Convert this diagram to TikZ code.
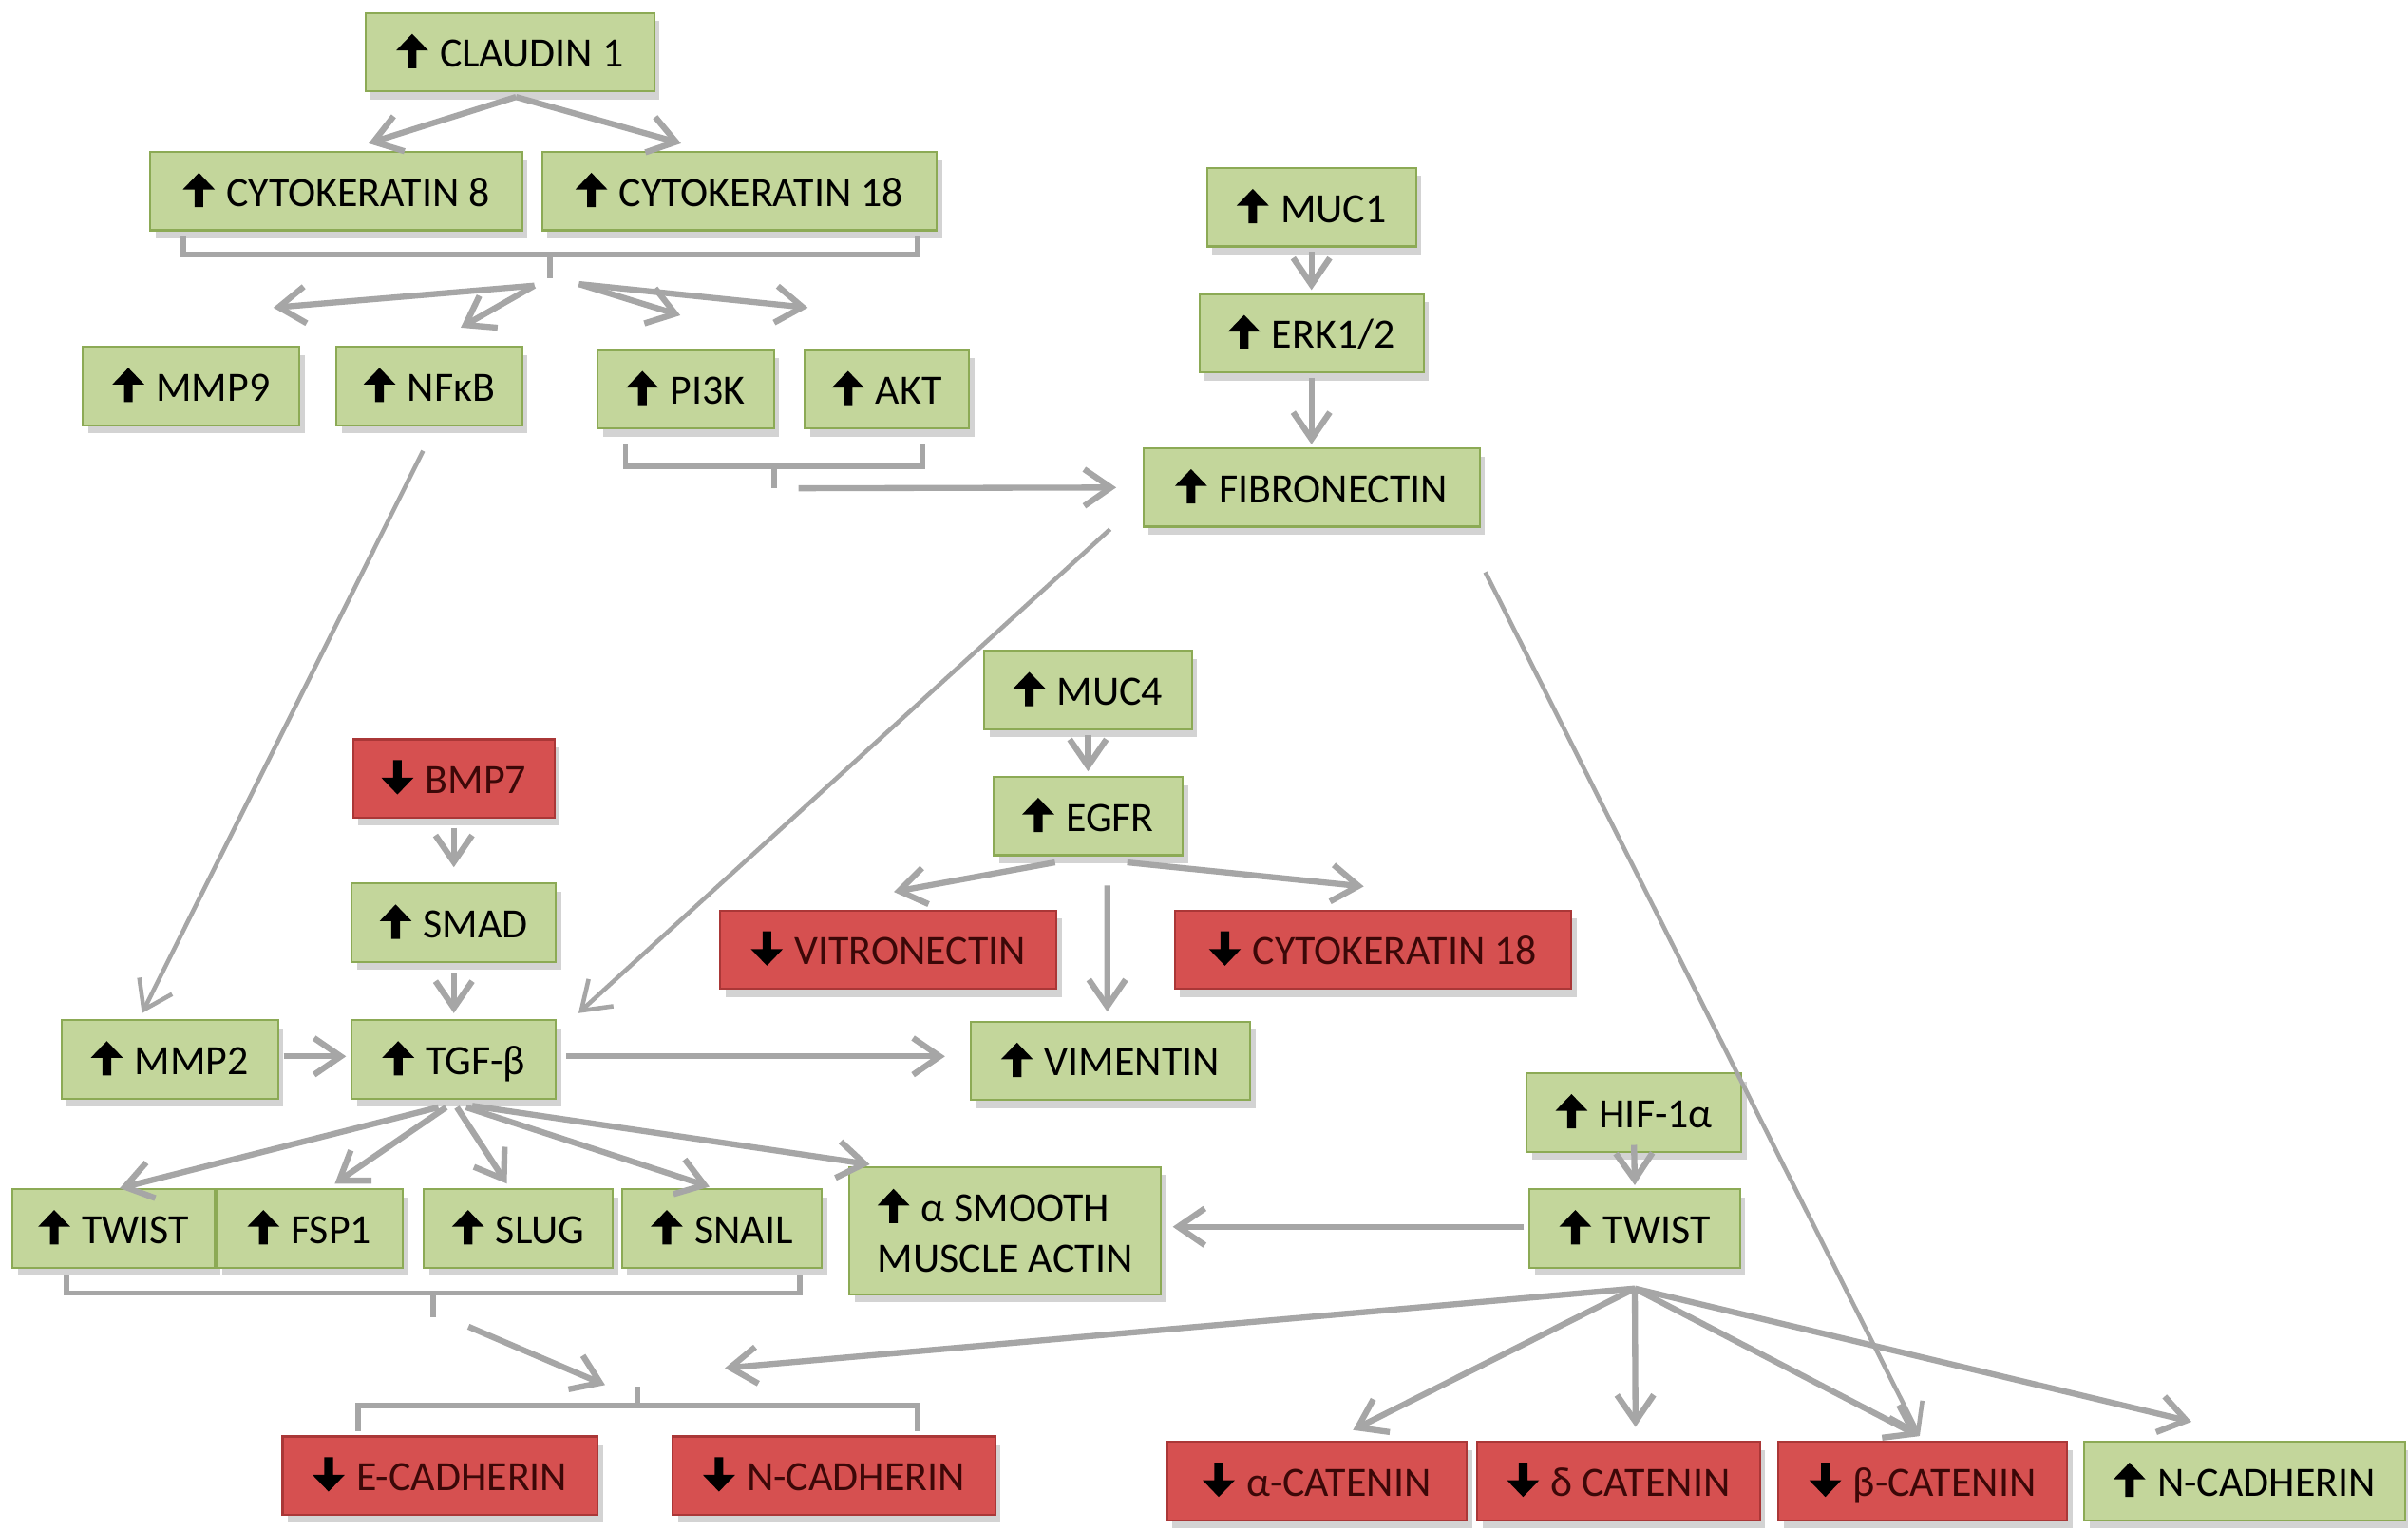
\documentclass[tikz,border=0pt]{standalone}
\usepackage{fontspec}
\setmainfont{Carlito}
\usetikzlibrary{arrows.meta,calc,shadows}

\definecolor{upfill}{RGB}{195,214,155}
\definecolor{updraw}{RGB}{140,170,85}
\definecolor{downfill}{RGB}{214,80,80}
\definecolor{downdraw}{RGB}{170,55,55}
\definecolor{downtext}{RGB}{60,8,8}
\definecolor{linkgray}{RGB}{166,166,166}

\def\pxl{0.016167cm}
\newcommand{\up}{\tikz[baseline=0pt]\fill[black] (-1.3pt,-0.3pt) -- (-1.3pt,5pt) -- (-4.8pt,5pt)
  -- (0,10pt) -- (4.8pt,5pt) -- (1.3pt,5pt) -- (1.3pt,-0.3pt) -- cycle;\hspace{3.5pt}}
\newcommand{\dn}{\tikz[baseline=0pt]\fill[black] (-1.3pt,10pt) -- (-1.3pt,4.7pt) -- (-4.8pt,4.7pt)
  -- (0,-0.3pt) -- (4.8pt,4.7pt) -- (1.3pt,4.7pt) -- (1.3pt,10pt) -- cycle;\hspace{3.5pt}}

\tikzset{
  box/.style={rectangle, line width=0.6pt, inner sep=0pt, minimum height=51*\pxl,
    font=\fontsize{12.5}{15}\selectfont,
    drop shadow={shadow xshift=1.6pt, shadow yshift=-2.4pt, opacity=0.35}},
  oneline/.style={text height=9.8pt, text depth=0.8pt},
  upbox/.style={box, draw=updraw, fill=upfill, text=black},
  downbox/.style={box, draw=downdraw, fill=downfill, text=downtext},
  link/.style={draw=linkgray, line width=1.8pt, -{Straight Barb[length=8pt,width=11pt]}},
  thinlink/.style={link, line width=1.3pt},
  brace/.style={draw=linkgray, line width=1.6pt},
}

\begin{document}
\begin{tikzpicture}[x=\pxl, y=-\pxl]

\useasboundingbox (0,0) rectangle (1568,996);

%up boxes
\foreach \name/\x/\y/\w/\txt in {claudin/332/34/188/CLAUDIN 1,
    ck8/219/124.5/242/CYTOKERATIN 8, ck18/481.5/124.5/257/CYTOKERATIN 18,
    mmp9/124.5/251.5/141/MMP9, nfkb/279.5/251.5/121/NFκB,
    pi3k/446.5/253.5/115/PI3K, akt/577.5/253.5/107/AKT,
    muc1/854/135/136/MUC1, erk/854/217/146/{ERK1/2}, fib/854/317.5/219/FIBRONECTIN,
    muc4/708.5/449.5/135/MUC4, egfr/708.5/531.5/123/EGFR, vim/723/691/182/VIMENTIN,
    smad/295.5/601/133/SMAD, tgf/295.5/690/133/TGF-β, mmp2/110.5/690/141/MMP2,
    twist/74/800/132/TWIST, fsp1/201.5/800/121/FSP1, slug/337.5/800/123/SLUG,
    snail/470/800/130/SNAIL, hif/1064/724.5/140/HIF-1α, twisttwo/1064.5/800/137/TWIST,
    ncadup/1461.5/964.5/209/N-CADHERIN}{
  \node[upbox, oneline, minimum width=\w*\pxl] (\name) at (\x,\y) {\up\txt};
}
\node[upbox, minimum width=203*\pxl, minimum height=83*\pxl, align=left] (asma) at (654.5,801.5)
  {\up α SMOOTH\\MUSCLE ACTIN};

%down boxes
\foreach \name/\x/\y/\w/\txt in {bmp7/295.5/507/131/BMP7,
    vitro/578.5/618.5/219/VITRONECTIN, ckred/894/618.5/258/CYTOKERATIN 18,
    ecad/286.5/961/205/E-CADHERIN, ncad/543/961/210/N-CADHERIN,
    acat/857.5/964.5/195/α-CATENIN, dcat/1054/964.5/184/δ CATENIN,
    bcat/1252/964.5/188/β-CATENIN}{
  \node[downbox, oneline, minimum width=\w*\pxl] (\name) at (\x,\y) {\dn\txt};
}

%claudin
\coordinate (cl) at ($(claudin.south)+(4,3)$);
\draw[link] (cl) -- ($(ck8.north)+(21,-5)$);
\draw[link] (cl) -- ($(ck18.north)+(-38,-5)$);

%cytokeratins
\draw[brace] ($(ck8.south west)+(22,3)$) -- ++(0,12) -| ($(ck18.south east)+(-13,3)$);
\coordinate (ckj) at (358,165);
\draw[brace] (ckj) -- ++(0,16);
\coordinate (ckl) at (348,186);
\coordinate (ckr) at (377,185);
\draw[link] (ckl) -- ($(mmp9.north)+(53.5,-25)$);
\draw[link] (ckl) -- ($(nfkb.north)+(20.5,-12)$);
\draw[link] (ckr) -- ($(pi3k.north)+(-3.5,-22)$);
\draw[link] (ckr) -- ($(akt.north)+(-51.5,-27)$);

%pi3k akt
\draw[brace] ($(pi3k.south west)+(19,10)$) -- ++(0,14) -| ($(akt.south east)+(-31,10)$);
\coordinate (paj) at (504,303);
\draw[brace] (paj) -- ++(0,15);
\coordinate (pao) at (520,318);
\draw[link] (pao) -- ($(fib.west)+(-17,0)$);

%muc1
\draw[link] ($(muc1.south)+(0,3)$) -- ($(erk.north)+(0,-2)$);
\draw[link] ($(erk.south)+(0,3)$) -- ($(fib.north)+(0,-2)$);

%long ones
\draw[thinlink] ($(nfkb.south)+(-4,16)$) -- ($(mmp2.north)+(-18,-4)$);
\draw[thinlink] ($(fib.south west)+(-21,1)$) -- ($(tgf.north east)+(14,-4)$);
\draw[thinlink] ($(fib.south east)+(3,29)$) -- ($(bcat.north)+(-2,-3)$);

%muc4 egfr
\draw[link] ($(muc4.south)+(0,3)$) -- ($(egfr.north)+(0,-3)$);
\draw[link] ($(egfr.south)+(-21.5,4)$) -- ($(vitro.north)+(3.5,-11.5)$);
\draw[link] ($(egfr.south)+(25.5,4)$) -- ($(ckred.north)+(-6,-15)$);
\draw[link] ($(egfr.south)+(12.5,19)$) -- ($(vim.north)+(-2,-6)$);

%bmp7 smad tgf
\draw[link] ($(bmp7.south)+(0,6)$) -- ($(smad.north)+(0,-10)$);
\draw[link] ($(smad.south)+(0,7)$) -- ($(tgf.north)+(0,-4)$);
\draw[link] ($(mmp2.east)+(3,-2)$) -- ($(tgf.west)+(-3,-2)$);
\draw[link] ($(tgf.east)+(6,-2)$) -- ($(vim.west)+(-16,-3)$);

%tgf fan
\foreach \dx/\to/\ex/\ey in {-10/twist/4/0, -5/fsp1/16.5/-3, 2/slug/-7.5/-3, 8/snail/-8/-1}{
  \draw[link] ($(tgf.south)+(\dx,5)$) -- ($(\to.north)+(\ex,\ey)$);
}
\draw[link] ($(tgf.south)+(12,4)$) -- ($(asma.north west)+(14,-1)$);

%emt bracket
\draw[brace] ($(twist.south west)+(36,4)$) -- ++(0,12) -| ($(snail.south east)+(-15,4)$);
\coordinate (emtj) at (282,842);
\draw[brace] (emtj) -- ++(0,16);
\coordinate (emto) at (305,864);
\coordinate (cadin) at (394,902);
\draw[link] (emto) -- (cadin);

%cadherin bracket
\draw[brace] ($(ecad.north west)+(50,-3)$) -- ++(0,-16.5) -| ($(ncad.north east)+(-51,-3)$);
\coordinate (cadj) at (415,916.5);
\draw[brace] (cadj) -- ++(0,-13.5);

%hif twist
\draw[link] ($(hif.south)+(0,-5)$) -- ($(twisttwo.north)+(0,-2)$);
\draw[link] ($(twisttwo.west)+(-3,-1)$) -- ($(asma.east)+(7,-2.5)$);

%twist fan
\coordinate (tw) at ($(twisttwo.south)+(0,13)$);
\coordinate (cadtip) at (472,891);
\draw[link] (tw) -- (cadtip);
\foreach \to/\ex/\ey in {acat/23.5/-7, dcat/11/-9, bcat/-2.5/-3, ncadup/-34.5/-12.4}{
  \draw[link] (tw) -- ($(\to.north)+(\ex,\ey)$);
}

\end{tikzpicture}
\end{document}
